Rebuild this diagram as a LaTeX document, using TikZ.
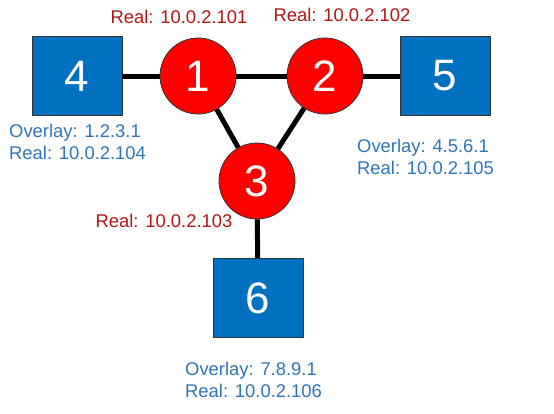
\documentclass[tikz,border=0pt]{standalone}
\usepackage{fontspec}
\setmainfont{Liberation Sans}
\definecolor{boxblue}{HTML}{0070C0}
\definecolor{lblblue}{HTML}{2E75B6}
\definecolor{lblred}{HTML}{B01515}
\definecolor{nodered}{HTML}{FF0000}
\tikzset{
  host/.style={draw=black!80, line width=0.8pt, fill=boxblue, text=white, minimum width=90pt, minimum height=79pt, inner sep=0pt, font=\fontsize{44}{44}\selectfont},
  router/.style={circle, draw=black!80, line width=0.8pt, fill=nodered, text=white, minimum size=76pt, inner sep=0pt, font=\fontsize{44}{44}\selectfont},
  link/.style={line width=5pt, black},
  redlbl/.style={text=lblred, inner sep=0pt, font=\fontsize{18.4}{22}\selectfont},
  bluelbl/.style={text=lblblue, inner sep=0pt, align=left, anchor=west, font=\fontsize{18.4}{22}\selectfont}
}
\begin{document}
\begin{tikzpicture}[x=1pt,y=-1pt]
\useasboundingbox (0,0) rectangle (554,413);
\node[host] (h4) at (77,76) {4};
\node[host] (h5) at (445,76) {5};
\node[host] (h6) at (258,298) {6};
\node[router] (r1) at (198,76) {1};
\node[router] (r2) at (325,76) {2};
\node[router] (r3) at (257,181) {3};
\draw[link] (h4) -- (r1);
\draw[link] (r1) -- (r2);
\draw[link] (r2) -- (h5);
\draw[link] (r1) -- (r3);
\draw[link] (r2) -- (r3);
\draw[link] (r3) -- (h6);
\node[redlbl] (l1) at (179,17) {Real: 10.0.2.101};
\node[redlbl] (l2) at (342,15) {Real: 10.0.2.102};
\node[redlbl] (l3) at (164,221) {Real: 10.0.2.103};
\node[bluelbl] (l4) at (9,142) {Overlay: 1.2.3.1\\Real: 10.0.2.104};
\node[bluelbl] (l5) at (357,157) {Overlay: 4.5.6.1\\Real: 10.0.2.105};
\node[bluelbl] (l6) at (185,380) {Overlay: 7.8.9.1\\Real: 10.0.2.106};
\end{tikzpicture}
\end{document}
